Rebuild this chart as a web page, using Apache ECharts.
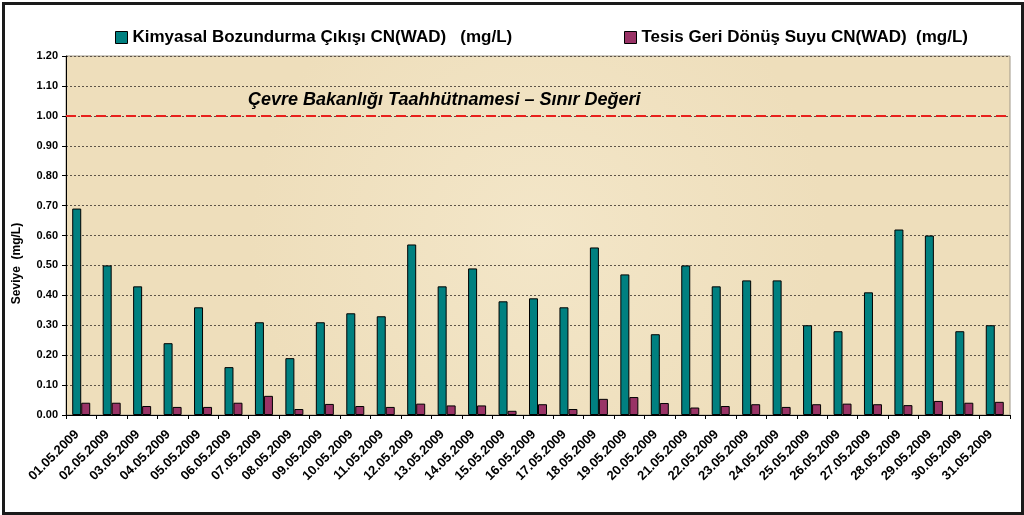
<!DOCTYPE html>
<html><head><meta charset="utf-8">
<script src="https://cdn.jsdelivr.net/npm/echarts@6/dist/echarts.min.js"></script>
<style>html,body{margin:0;padding:0;background:#fff}#c{width:1024px;height:515px}</style>
</head><body><div id="c"></div>
<script>
const categories = ['01.05.2009','02.05.2009','03.05.2009','04.05.2009','05.05.2009','06.05.2009','07.05.2009','08.05.2009','09.05.2009','10.05.2009','11.05.2009','12.05.2009','13.05.2009','14.05.2009','15.05.2009','16.05.2009','17.05.2009','18.05.2009','19.05.2009','20.05.2009','21.05.2009','22.05.2009','23.05.2009','24.05.2009','25.05.2009','26.05.2009','27.05.2009','28.05.2009','29.05.2009','30.05.2009','31.05.2009'];
const kimyasal = [0.69,0.50,0.43,0.24,0.36,0.16,0.31,0.19,0.31,0.34,0.33,0.57,0.43,0.49,0.38,0.39,0.36,0.56,0.47,0.27,0.50,0.43,0.45,0.45,0.30,0.28,0.41,0.62,0.60,0.28,0.30];
const tesis = [0.041,0.041,0.030,0.027,0.027,0.041,0.064,0.020,0.037,0.030,0.027,0.038,0.032,0.032,0.014,0.036,0.020,0.054,0.060,0.040,0.025,0.030,0.036,0.027,0.036,0.038,0.036,0.033,0.047,0.041,0.044];
const seriesNames = ['Kimyasal Bozundurma Çıkışı CN(WAD)   (mg/L)','Tesis Geri Dönüş Suyu CN(WAD)  (mg/L)'];
const limitValue = 1.00;
const limitLabel = 'Çevre Bakanlığı Taahhütnamesi – Sınır Değeri';
const yAxisName = 'Seviye  (mg/L)';

const F = '"Liberation Sans", Arial, sans-serif';
const chart = echarts.init(document.getElementById('c'));
const legendText = { fontFamily: F, fontSize: 17, fontWeight: 'bold', color: '#000' };
chart.setOption({
  backgroundColor: '#ffffff',
  animation: false,
  textStyle: { fontFamily: F },
  legend: [
    { data: [{ name: seriesNames[0], icon: 'rect' }], left: 110, top: 24, itemWidth: 12, itemHeight: 12, itemGap: 4,
      itemStyle: { borderColor: '#000', borderWidth: 1 }, textStyle: legendText },
    { data: [{ name: seriesNames[1], icon: 'rect' }], left: 619, top: 24, itemWidth: 12, itemHeight: 12,
      itemStyle: { borderColor: '#000', borderWidth: 1 }, textStyle: legendText }
  ],
  graphic: [
    { type: 'rect', left: 1, top: 1, shape: { width: 1019, height: 510 }, style: { fill: 'none', stroke: '#1a1a1a', lineWidth: 3 }, silent: true, z: 100 },
    { type: 'text', left: 248, top: 91, style: { text: limitLabel, font: 'italic bold 18px ' + F, fill: '#000' }, z: 50 }
  ],
  grid: { left: 66, right: 14, top: 56, bottom: 100, show: true,
    backgroundColor: { type: 'radial', x: 0.5, y: 0.5, r: 0.8, colorStops: [{ offset: 0, color: '#f3e6c8' }, { offset: 1, color: '#eedebb' }] },
    borderColor: '#a09888', borderWidth: 1 },
  xAxis: {
    type: 'category', data: categories, boundaryGap: true,
    axisLine: { lineStyle: { color: '#000', width: 1 } },
    axisTick: { show: true, alignWithLabel: false, length: 4, lineStyle: { color: '#000' } },
    axisLabel: { rotate: 45, interval: 0, margin: 13, padding: [0, 6, 0, 0], fontFamily: F, fontSize: 13, fontWeight: 'bold', color: '#000' }
  },
  yAxis: {
    type: 'value', min: 0, max: 1.2, interval: 0.1,
    name: yAxisName, nameLocation: 'middle', nameGap: 43, nameRotate: 90,
    nameTextStyle: { fontFamily: F, fontSize: 12, fontWeight: 'bold', color: '#000', padding: [0, 56, 0, 0] },
    axisLine: { show: true, lineStyle: { color: '#000' } },
    axisTick: { show: true, length: 4, lineStyle: { color: '#000' } },
    axisLabel: { formatter: v => v.toFixed(2), fontFamily: F, fontSize: 11, fontWeight: 'bold', color: '#000', margin: 8 },
    splitLine: { show: true, lineStyle: { color: '#5e5448', type: [2, 2], width: 1 } }
  },
  series: [
    { name: seriesNames[0], type: 'bar', data: kimyasal, barWidth: 9, barGap: '0%',
      itemStyle: { color: '#008080', borderColor: '#000', borderWidth: 1 },
      markLine: { silent: true, symbol: 'none', label: { show: false },
        lineStyle: { color: '#e8201c', type: [10, 5], width: 2 },
        data: [{ yAxis: limitValue }] } },
    { name: seriesNames[1], type: 'bar', data: tesis, barWidth: 9,
      itemStyle: { color: '#993366', borderColor: '#000', borderWidth: 1 } }
  ]
});
</script></body></html>
